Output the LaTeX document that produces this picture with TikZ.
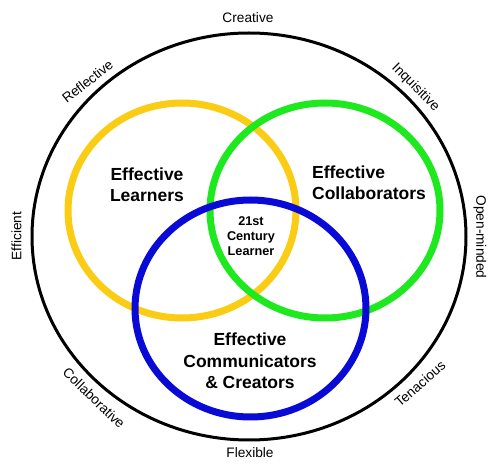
\documentclass[tikz,border=0pt]{standalone}
\usepackage{fontspec}
\setmainfont{Liberation Sans}
\usepackage{tikz}
\definecolor{hexcolor0xfacc14}{rgb}{0.980,0.800,0.078}
\definecolor{hexcolor0x1ee81e}{rgb}{0.118,0.910,0.118}
\definecolor{hexcolor0x0a0ad7}{rgb}{0.039,0.039,0.843}
\definecolor{myblack}{rgb}{0.000,0.000,0.000}
\definecolor{mywhite}{rgb}{1.000,1.000,1.000}
\tikzstyle{rim}=[draw=myblack,line width=3pt]
\tikzstyle{ringA}=[draw=hexcolor0xfacc14,line width=7pt]
\tikzstyle{ringB}=[draw=hexcolor0x1ee81e,line width=7pt]
\tikzstyle{ringC}=[draw=hexcolor0x0a0ad7,line width=7pt]
\tikzstyle{trait}=[inner sep=0pt,font=\fontsize{13.7}{16}\selectfont]
\tikzstyle{group}=[inner sep=0pt,align=center,font=\bfseries\fontsize{17.5}{21.5}\selectfont]
\tikzstyle{core}=[inner sep=0pt,align=center,font=\bfseries\fontsize{12.7}{15}\selectfont]

\begin{document}
\begin{tikzpicture}[x=1pt,y=-1pt]
	\useasboundingbox[fill=mywhite] (0,0) rectangle (496,470);
	% rings
	\draw [style=rim] (249,236.5) ellipse [x radius=217, y radius=203.5];
	\draw [style=ringA] (182,210.5) ellipse [x radius=114, y radius=107.5];
	\draw [style=ringB] (325,210.5) ellipse [x radius=115, y radius=107.5];
	\draw [style=ringC] (250.5,308.5) ellipse [x radius=115.5, y radius=108.5];
	% labels
		\node [style=group] (0) at (147,184.5) {Effective\\Learners};
		\node [style=group,align=left] (1) at (369,182.5) {Effective\\Collaborators};
		\node [style=group] (2) at (250,361) {Effective\\Communicators\\\& Creators};
		\node [style=core] (3) at (251,236) {21st\\Century\\Learner};
		\node [style=trait] (4) at (248,18) {Creative};
		\node [style=trait] (5) at (250,453) {Flexible};
		\node [style=trait,rotate=90] (6) at (16.5,236) {Efficient};
		\node [style=trait,rotate=-90] (7) at (480,237) {Open-minded};
		\node [style=trait,rotate=38] (8) at (87.5,81.5) {Reflective};
		\node [style=trait,rotate=-45] (9) at (415.5,87.5) {Inquisitive};
		\node [style=trait,rotate=-44] (10) at (94,398) {Collaborative};
		\node [style=trait,rotate=41] (11) at (420,384) {Tenacious};
\end{tikzpicture}
\end{document}
